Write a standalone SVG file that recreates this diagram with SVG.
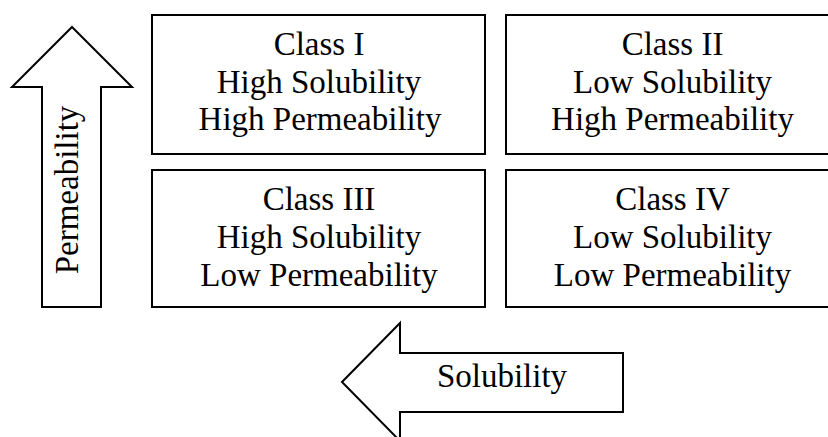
<svg xmlns="http://www.w3.org/2000/svg" width="828" height="437" viewBox="0 0 828 437">
<style>
.box{fill:#fff;stroke:#000;stroke-width:2}
.arrow{fill:#fff;stroke:#000;stroke-width:2;stroke-linejoin:miter}
text{font-family:"Liberation Serif","Times New Roman",serif;font-size:33px;fill:#000;text-anchor:middle}
</style>
<rect width="828" height="437" fill="#fff"/>
<g id="connectors">
<g id="permeability-arrow">
<polygon class="arrow" points="72,27 132,87 101,87 101,307 42,307 42,87 12,87"/>
<text transform="translate(78,190) rotate(-90)">Permeability</text>
</g>
<g id="solubility-arrow">
<polygon class="arrow" points="342,382 400,323 400,353 623,353 623,412 400,412 400,441"/>
<text x="502" y="387">Solubility</text>
</g>
</g>
<g id="class1">
<rect class="box" x="152" y="15" width="333" height="139"/>
<text x="319" y="55">Class I</text>
<text x="319" y="93">High Solubility</text>
<text x="320" y="130">High Permeability</text>
</g>
<g id="class2">
<rect class="box" x="506" y="15" width="333" height="139"/>
<text x="672.5" y="55">Class II</text>
<text x="672.5" y="93">Low Solubility</text>
<text x="672.5" y="130">High Permeability</text>
</g>
<g id="class3">
<rect class="box" x="152" y="170" width="333" height="137"/>
<text x="319" y="210">Class III</text>
<text x="319" y="248">High Solubility</text>
<text x="319" y="286">Low Permeability</text>
</g>
<g id="class4">
<rect class="box" x="506" y="170" width="333" height="137"/>
<text x="672.5" y="210">Class IV</text>
<text x="672.5" y="248">Low Solubility</text>
<text x="672.5" y="286">Low Permeability</text>
</g>
</svg>
